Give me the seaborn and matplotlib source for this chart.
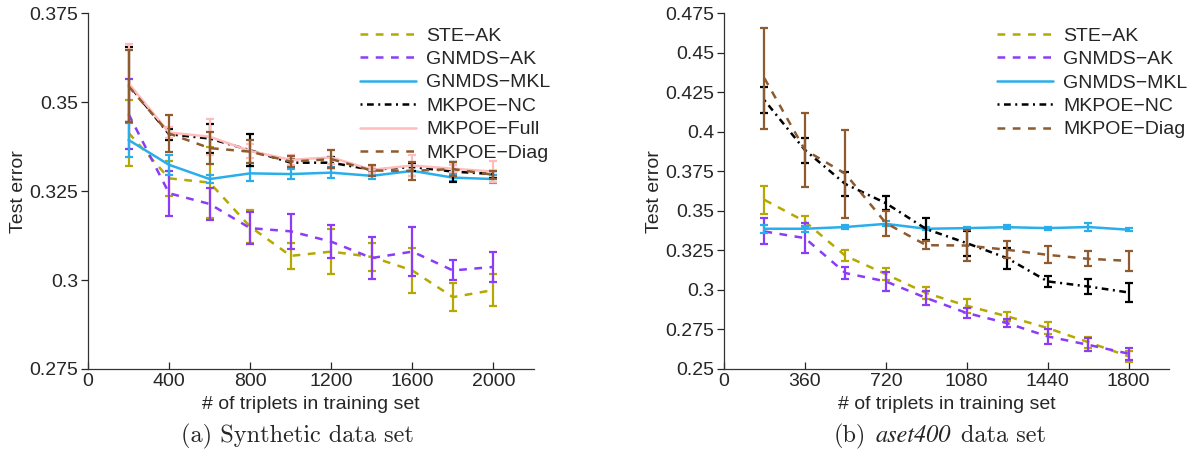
import matplotlib
matplotlib.use("Agg")
import matplotlib.pyplot as plt
from matplotlib.ticker import FormatStrFormatter
import seaborn as sns
import numpy as np
import pandas as pd

# ---- data ----
methods_a = ["STE−AK", "GNMDS−AK", "GNMDS−MKL", "MKPOE−NC", "MKPOE−Full", "MKPOE−Diag"]
methods_b = ["STE−AK", "GNMDS−AK", "GNMDS−MKL", "MKPOE−NC", "MKPOE−Diag"]

# (a) synthetic data set
x_a = [200, 400, 600, 800, 1000, 1200, 1400, 1600, 1800, 2000]
ste_ak_a = [0.3414, 0.3286, 0.3274, 0.3150, 0.3068, 0.3080, 0.3065, 0.3027, 0.2952, 0.2972]
ste_ak_a_err = [0.0093, 0.0050, 0.0100, 0.0047, 0.0036, 0.0063, 0.0040, 0.0062, 0.0040, 0.0044]
gnmds_ak_a = [0.3467, 0.3244, 0.3214, 0.3146, 0.3137, 0.3108, 0.3062, 0.3080, 0.3027, 0.3037]
gnmds_ak_a_err = [0.0098, 0.0064, 0.0044, 0.0046, 0.0050, 0.0046, 0.0058, 0.0068, 0.0028, 0.0042]
gnmds_mkl_a = [0.3394, 0.3324, 0.3284, 0.3300, 0.3298, 0.3302, 0.3293, 0.3307, 0.3288, 0.3284]
gnmds_mkl_a_err = [0.0048, 0.0028, 0.0010, 0.0021, 0.0015, 0.0015, 0.0010, 0.0015, 0.0010, 0.0010]
mkpoe_nc_a = [0.3550, 0.3410, 0.3398, 0.3365, 0.3330, 0.3330, 0.3310, 0.3318, 0.3305, 0.3298]
mkpoe_nc_a_err = [0.0105, 0.0015, 0.0040, 0.0045, 0.0010, 0.0015, 0.0010, 0.0010, 0.0028, 0.0010]
mkpoe_full_a = [0.3553, 0.3415, 0.3403, 0.3363, 0.3338, 0.3345, 0.3310, 0.3322, 0.3313, 0.3305]
mkpoe_full_a_err = [0.0110, 0.0015, 0.0050, 0.0020, 0.0015, 0.0020, 0.0010, 0.0030, 0.0010, 0.0030]
mkpoe_diag_a = [0.3545, 0.3412, 0.3371, 0.3361, 0.3333, 0.3340, 0.3308, 0.3307, 0.3312, 0.3296]
mkpoe_diag_a_err = [0.0102, 0.0051, 0.0045, 0.0032, 0.0015, 0.0025, 0.0015, 0.0025, 0.0020, 0.0012]

# (b) aset400 data set
x_b = [180, 360, 540, 720, 900, 1080, 1260, 1440, 1620, 1800]
ste_ak_b = [0.3570, 0.3433, 0.3216, 0.3100, 0.2980, 0.2900, 0.2833, 0.2759, 0.2670, 0.2580]
ste_ak_b_err = [0.0090, 0.0035, 0.0035, 0.0040, 0.0040, 0.0045, 0.0030, 0.0040, 0.0035, 0.0035]
gnmds_ak_b = [0.3370, 0.3328, 0.3107, 0.3054, 0.2949, 0.2854, 0.2790, 0.2706, 0.2653, 0.2597]
gnmds_ak_b_err = [0.0082, 0.0093, 0.0037, 0.0061, 0.0043, 0.0033, 0.0025, 0.0045, 0.0040, 0.0038]
gnmds_mkl_b = [0.3387, 0.3387, 0.3398, 0.3418, 0.3387, 0.3391, 0.3397, 0.3391, 0.3398, 0.3381]
gnmds_mkl_b_err = [0.0025, 0.0020, 0.0012, 0.0015, 0.0010, 0.0010, 0.0012, 0.0010, 0.0028, 0.0010]
mkpoe_nc_b = [0.4200, 0.3885, 0.3670, 0.3549, 0.3385, 0.3296, 0.3201, 0.3054, 0.3022, 0.2984]
mkpoe_nc_b_err = [0.0082, 0.0079, 0.0074, 0.0045, 0.0070, 0.0079, 0.0066, 0.0035, 0.0048, 0.0060]
mkpoe_diag_b = [0.4339, 0.3886, 0.3735, 0.3423, 0.3283, 0.3281, 0.3254, 0.3222, 0.3197, 0.3184]
mkpoe_diag_b_err = [0.0319, 0.0232, 0.0279, 0.0079, 0.0027, 0.0101, 0.0053, 0.0053, 0.0048, 0.0065]

yticks_a = [0.275, 0.3, 0.325, 0.35, 0.375]
xticks_a = [0, 400, 800, 1200, 1600, 2000]
yticks_b = [0.25, 0.275, 0.3, 0.325, 0.35, 0.375, 0.4, 0.425, 0.45, 0.475]
xticks_b = [0, 360, 720, 1080, 1440, 1800]

colors = {
    "STE−AK": "#b5a800",
    "GNMDS−AK": "#8a3cf7",
    "GNMDS−MKL": "#2aaeeb",
    "MKPOE−NC": "#000000",
    "MKPOE−Full": "#ffbcbc",
    "MKPOE−Diag": "#8e5a2e",
}
dashes = {
    "STE−AK": (3.1, 3.0),
    "GNMDS−AK": (3.1, 3.0),
    "GNMDS−MKL": "",
    "MKPOE−NC": (0.8, 1.8, 2.7, 1.8),
    "MKPOE−Full": "",
    "MKPOE−Diag": (3.1, 3.0),
}

sns.set_style("ticks")
plt.rcParams["font.family"] = ["Liberation Sans", "DejaVu Sans"]


def draw_panel(ax, x, methods, means, errs, xticks, xlim, yticks, legend_xy):
    df = pd.concat([pd.DataFrame({"triplets": x, "error": m, "method": name})
                    for name, m in zip(methods, means)], ignore_index=True)
    sns.lineplot(data=df, x="triplets", y="error", hue="method", style="method",
                 hue_order=methods, style_order=methods, palette=colors,
                 dashes=dashes, errorbar=None, legend=False, linewidth=1.8, ax=ax)
    handles = list(ax.lines)
    for i, line in enumerate(handles):
        line.set_zorder(3 + i)
    for i, (name, m, e) in enumerate(zip(methods, means, errs)):
        ax.errorbar(x, m, yerr=e, fmt="none", ecolor=colors[name], elinewidth=1.6,
                    capsize=2.6, capthick=1.6, zorder=3 + i + 0.5)

    ax.set_xlim(*xlim)
    ax.set_ylim(yticks[0], yticks[-1])
    ax.set_xticks(xticks)
    ax.set_yticks(yticks)
    ax.yaxis.set_major_formatter(FormatStrFormatter("%g"))
    sns.despine(ax=ax)
    for s in ["left", "bottom"]:
        ax.spines[s].set_linewidth(0.9)
        ax.spines[s].set_color("#333333")
    ax.tick_params(axis="y", direction="out", length=5, width=0.9, labelsize=14, pad=2)
    ax.tick_params(axis="x", direction="in", length=5, width=0.9, labelsize=14, pad=3)
    ax.set_xlabel("# of triplets in training set", fontsize=14)
    ax.set_ylabel("Test error", fontsize=14)
    ax.xaxis.set_label_coords(0.5, -0.075)
    ax.yaxis.set_label_coords(-0.137, 0.5)

    fig = ax.figure
    fig.legend(handles, methods, loc="upper left",
               bbox_to_anchor=legend_xy, bbox_transform=fig.transFigure,
               frameon=False, fontsize=14, handlelength=2.9, handletextpad=0.5,
               labelspacing=0.3, borderpad=0, borderaxespad=0)


fig = plt.figure(figsize=(11.89, 4.57), dpi=100)
ax_a = fig.add_axes([0.0740, 0.1926, 0.3751, 0.7783])
ax_b = fig.add_axes([0.6089, 0.1926, 0.3743, 0.7783])

draw_panel(ax_a, x_a, methods_a,
           [ste_ak_a, gnmds_ak_a, gnmds_mkl_a, mkpoe_nc_a, mkpoe_full_a, mkpoe_diag_a],
           [ste_ak_a_err, gnmds_ak_a_err, gnmds_mkl_a_err, mkpoe_nc_a_err, mkpoe_full_a_err, mkpoe_diag_a_err],
           xticks_a, (0, 2200), yticks_a, (360 / 1189, 1 - 27 / 457))
draw_panel(ax_b, x_b, methods_b,
           [ste_ak_b, gnmds_ak_b, gnmds_mkl_b, mkpoe_nc_b, mkpoe_diag_b],
           [ste_ak_b_err, gnmds_ak_b_err, gnmds_mkl_b_err, mkpoe_nc_b_err, mkpoe_diag_b_err],
           xticks_b, (0, 1980), yticks_b, (997 / 1189, 1 - 27 / 457))

# captions below the panels (serif, like the LaTeX subcaptions)
cap_y = 1 - 442 / 457
fig.text(297 / 1189, cap_y, "(a) Synthetic data set", family="cmr10",
         fontsize=17.5, ha="center", va="baseline")

renderer = fig.canvas.get_renderer()
parts = [("(b)", dict(family="cmr10")),
         ("aset400", dict(family="STIXGeneral", style="italic")),
         ("data set", dict(family="cmr10"))]
texts = [fig.text(0, cap_y, s, fontsize=17.5, ha="left", va="baseline", **kw) for s, kw in parts]
widths = [t.get_window_extent(renderer).width for t in texts]
space = 17.5 * 0.4 * 100 / 72
total = sum(widths) + 2 * space
xp = 940 - total / 2
for t, w in zip(texts, widths):
    t.set_x(xp / 1189)
    xp += w + space

fig.savefig("out.png", dpi=100)
